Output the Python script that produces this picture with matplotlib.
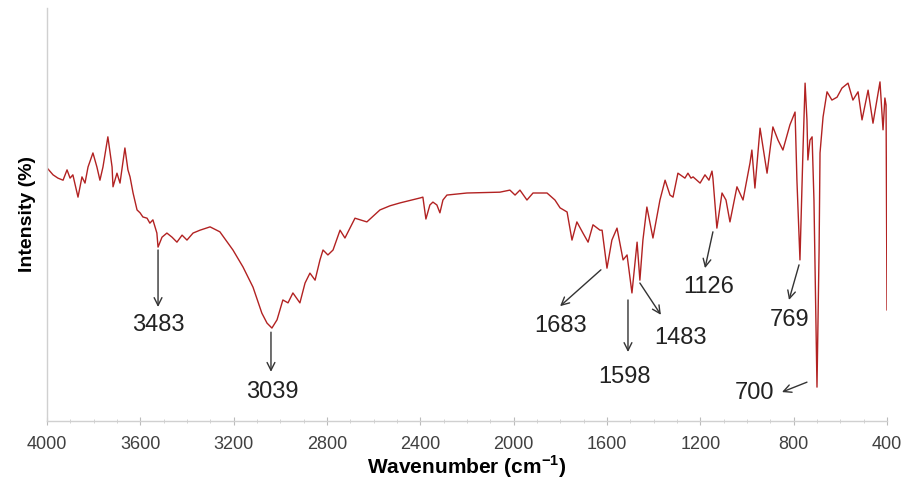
import matplotlib
matplotlib.use("Agg")
import matplotlib.pyplot as plt
from matplotlib.ticker import MultipleLocator

plt.rcParams["font.family"] = ["Liberation Sans", "DejaVu Sans"]
plt.rcParams["mathtext.fontset"] = "custom"
plt.rcParams["mathtext.rm"] = "Liberation Sans"
plt.rcParams["mathtext.bf"] = "Liberation Sans:bold"

# FTIR spectrum (wavenumber in cm-1, intensity in %)
wavenumber = [
    4000, 3974, 3953, 3931, 3914, 3901, 3889, 3867, 3850, 3837,
    3824, 3803, 3786, 3773, 3760, 3739, 3721, 3717, 3700, 3687,
    3666, 3653, 3644, 3631, 3614, 3601, 3589, 3571, 3559, 3546,
    3529, 3524, 3507, 3486, 3464, 3443, 3421, 3400, 3374, 3344,
    3301, 3259, 3203, 3160, 3117, 3079, 3057, 3036, 3014, 2989,
    2967, 2946, 2916, 2894, 2873, 2851, 2830, 2817, 2796, 2774,
    2744, 2723, 2680, 2629, 2573, 2530, 2487, 2401, 2389, 2376,
    2359, 2346, 2329, 2316, 2303, 2286, 2200, 2059, 2016, 1994,
    1973, 1943, 1917, 1857, 1823, 1801, 1771, 1750, 1729, 1703,
    1681, 1660, 1630, 1621, 1600, 1579, 1557, 1531, 1514, 1493,
    1471, 1459, 1446, 1429, 1403, 1373, 1351, 1330, 1317, 1296,
    1266, 1253, 1240, 1231, 1201, 1180, 1163, 1150, 1146, 1129,
    1107, 1090, 1073, 1043, 1017, 987, 979, 966, 944, 914,
    889, 867, 846, 816, 794, 786, 773, 760, 751, 743,
    739, 730, 721, 713, 700, 691, 687, 674, 657, 636,
    614, 593, 567, 546, 524, 507, 481, 460, 443, 430,
    417, 409, 404, 400,
]
intensity = [
    61.3, 59.6, 58.8, 58.3, 60.8, 58.8, 59.6, 54.2, 59.1, 57.6,
    61.5, 64.9, 61.5, 58.3, 61.5, 68.8, 61.5, 56.7, 60.0, 57.6,
    66.1, 60.8, 59.1, 55.2, 51.1, 50.4, 49.4, 49.1, 47.9, 48.7,
    45.5, 42.1, 44.5, 45.5, 44.5, 43.3, 45.0, 43.8, 45.5, 46.2,
    47.0, 45.8, 41.4, 37.3, 32.4, 26.1, 23.7, 22.5, 24.5, 29.3,
    28.6, 31.0, 28.6, 33.4, 35.8, 34.1, 39.0, 41.4, 40.2, 41.4,
    46.2, 44.3, 49.1, 48.2, 51.1, 52.1, 52.8, 54.0, 54.2, 48.9,
    52.3, 53.0, 52.3, 50.4, 53.5, 54.7, 55.2, 55.4, 55.9, 54.7,
    55.9, 53.5, 55.2, 55.2, 53.5, 51.6, 50.6, 43.8, 48.2, 45.5,
    43.3, 47.5, 46.2, 46.2, 37.0, 43.8, 46.7, 39.0, 40.2, 31.0,
    43.3, 34.1, 43.8, 51.8, 44.3, 53.5, 58.3, 54.7, 54.2, 60.0,
    58.8, 60.0, 58.8, 59.1, 57.6, 59.6, 58.3, 60.5, 58.8, 46.7,
    55.2, 53.5, 48.2, 56.7, 53.5, 62.5, 65.6, 56.4, 70.9, 60.0,
    71.2, 68.0, 65.6, 71.7, 74.8, 58.3, 39.0, 65.6, 81.8, 72.9,
    63.2, 68.0, 68.8, 53.5, 8.2, 41.4, 64.9, 73.6, 79.7, 77.7,
    78.4, 80.6, 81.8, 77.7, 79.7, 72.9, 80.1, 72.1, 77.7, 82.1,
    70.5, 78.2, 76.5, 26.9,
]

# peak labels: text, arrow start (on curve), arrow end, text position
peak_labels = ["3483", "3039", "1683", "1598", "1483", "1126", "769", "700"]
arrow_start = [(3524, 41.4), (3040, 21.5), (1626, 36.6), (1510, 29.3),
               (1459, 33.4), (1146, 45.8), (777, 37.8), (743, 9.4)]
arrow_end = [(3524, 27.6), (3040, 11.9), (1801, 27.8), (1510, 16.7),
             (1369, 25.7), (1180, 37.0), (820, 29.3), (850, 7.0)]
label_pos = [(3524, 23.2), (3036, 7.0), (1797, 23.0), (1523, 10.7),
             (1287, 20.1), (1163, 32.4), (819, 24.5), (966, 6.8)]

fig = plt.figure(figsize=(9.05, 4.83), dpi=100)
ax = fig.add_axes([0.0519, 0.1284, 0.9282, 0.8551])

ax.plot(wavenumber, intensity, color="#b22222", lw=1.0)

for lab, s, e, p in zip(peak_labels, arrow_start, arrow_end, label_pos):
    ax.annotate("", xy=e, xytext=s,
                arrowprops=dict(arrowstyle="->", color="#333333", lw=1.0,
                                shrinkA=0, shrinkB=0, mutation_scale=14))
    ax.text(p[0], p[1], lab, ha="center", va="center", fontsize=17,
            color="#222222")

ax.set_xlim(4000, 400)
ax.set_ylim(0, 100)
ax.xaxis.set_major_locator(MultipleLocator(400))
ax.xaxis.set_minor_locator(MultipleLocator(100))
ax.set_yticks([])

for side in ["top", "right"]:
    ax.spines[side].set_visible(False)
for side in ["left", "bottom"]:
    ax.spines[side].set_color("#d0d0d0")
    ax.spines[side].set_linewidth(1.0)

ax.tick_params(axis="x", which="major", direction="inout", length=6,
               color="#bbbbbb", labelsize=13, labelcolor="#404040", pad=8)
ax.tick_params(axis="x", which="minor", direction="inout", length=3,
               color="#cccccc")

ax.set_xlabel(r"Wavenumber (cm$^{\mathbf{-1}}$)", fontsize=15,
              fontweight="bold", labelpad=0)
ax.set_ylabel("Intensity (%)", fontsize=14, fontweight="bold", labelpad=8)

fig.savefig("out.png", dpi=100)
